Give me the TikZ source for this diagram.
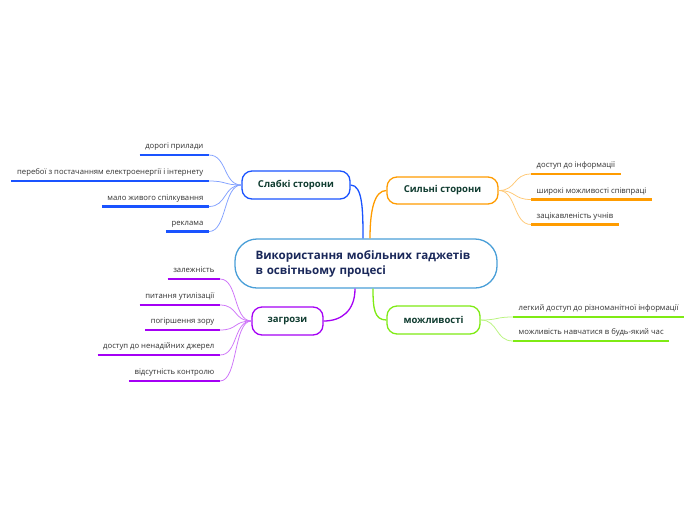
\documentclass[tikz,border=0pt]{standalone}
\usepackage{fontspec}
\setmainfont{Open Sans}
\usetikzlibrary{calc}
\definecolor{cblue}{RGB}{26,83,255}
\definecolor{corange}{RGB}{255,156,0}
\definecolor{cgreen}{RGB}{127,235,20}
\definecolor{cpurple}{RGB}{165,0,245}
\definecolor{ccentral}{RGB}{74,159,216}
\definecolor{branchtext}{RGB}{16,60,48}
\definecolor{centraltext}{RGB}{26,40,90}
\definecolor{leaftext}{RGB}{50,50,50}
\begin{document}
\begin{tikzpicture}[x=1pt,y=-1pt,
  central/.style={draw=ccentral,line width=1.3pt,rounded corners=22pt,fill=white,
    minimum width=262pt,minimum height=49pt,text width=221pt,inner xsep=20.5pt,align=left,
    font=\fontsize{11.6}{15}\selectfont\bfseries,text=centraltext},
  branch/.style={line width=1.3pt,rounded corners=10pt,fill=white,minimum height=28pt,
    font=\fontsize{9.5}{11}\selectfont\bfseries,text=branchtext},
  leaf/.style={font=\fontsize{7.7}{9}\selectfont,inner xsep=5.5pt,inner ysep=4pt,
    text height=5.5pt,text depth=2pt,text=leaftext},
  uline/.style={line width=2.4pt},
  lk/.style={line width=0.75pt},
  mk/.style={line width=1.3pt}]
\useasboundingbox (0,0) rectangle (696,520);
\fill[white] (0,0) rectangle (696,520);

% central
\node[central] (c) at (366,263.5) {Використання мобільних гаджетів\\в освітньому процесі};

% branches
\node[branch,draw=cblue,minimum width=108pt] (sl) at (296,185) {Слабкі сторони};
\node[branch,draw=corange,minimum width=111pt,minimum height=27pt] (sn) at (442.5,190.5) {Сильні сторони};
\node[branch,draw=cpurple,minimum width=71pt] (zg) at (287.5,321) {загрози};
\node[branch,draw=cgreen,minimum width=93pt] (mz) at (433.5,320) {можливості};

% main connectors
\draw[mk,cblue] (sl.east) .. controls +(12,0) and +(0,-28) .. ([xshift=-3pt]c.north);
\draw[mk,corange] (sn.west) .. controls +(-12,0) and +(0,-28) .. ([xshift=4pt]c.north);
\draw[mk,cpurple] (zg.east) .. controls +(18,0) and +(0,22) .. ([xshift=-11pt]c.south);
\draw[mk,cgreen] (mz.west) .. controls +(-12,0) and +(0,20) .. ([xshift=7pt]c.south);

% Слабкі сторони leaves
\node[leaf,anchor=south east] (s1) at (209,155) {дорогі прилади};
\node[leaf,anchor=south east] (s2) at (209,181) {перебої з постачанням електроенергії і інтернету};
\node[leaf,anchor=south east] (s3) at (209,206.5) {мало живого спілкування};
\node[leaf,anchor=south east] (s4) at (209,231.5) {реклама};
\foreach \n in {s1,s2,s3,s4}{
  \draw[uline,cblue] (\n.south west) -- (\n.south east);
  \draw[lk,cblue!55] (sl.west) .. controls +(-18,0) and +(18,0) .. (\n.south east);
}

% Сильні сторони leaves
\node[leaf,anchor=south west] (r1) at (531,174) {доступ до інформації};
\node[leaf,anchor=south west] (r2) at (531,199.5) {широкі можливості співпраці};
\node[leaf,anchor=south west] (r3) at (531,224.5) {зацікавленість учнів};
\foreach \n in {r1,r2,r3}{
  \draw[uline,corange] (\n.south west) -- (\n.south east);
  \draw[lk,corange!55] (sn.east) .. controls +(18,0) and +(-18,0) .. (\n.south west);
}

% можливості leaves
\node[leaf,anchor=south west] (m1) at (513,317) {легкий доступ до різноманітної інформації};
\node[leaf,anchor=south west] (m2) at (513,341) {можливість навчатися в будь-який час};
\foreach \n in {m1,m2}{
  \draw[uline,cgreen] (\n.south west) -- (\n.south east);
  \draw[lk,cgreen!55] (mz.east) .. controls +(18,0) and +(-18,0) .. (\n.south west);
}

% загрози leaves
\node[leaf,anchor=south east] (z1) at (220,279) {залежність};
\node[leaf,anchor=south east] (z2) at (220,305) {питання утилізації};
\node[leaf,anchor=south east] (z3) at (220,330) {погіршення зору};
\node[leaf,anchor=south east] (z4) at (220,355) {доступ до ненадійних джерел};
\node[leaf,anchor=south east] (z5) at (220,381) {відсутність контролю};
\foreach \n in {z1,z2,z3,z4,z5}{
  \draw[uline,cpurple] (\n.south west) -- (\n.south east);
  \draw[lk,cpurple!55] (zg.west) .. controls +(-18,0) and +(18,0) .. (\n.south east);
}
\end{tikzpicture}
\end{document}
